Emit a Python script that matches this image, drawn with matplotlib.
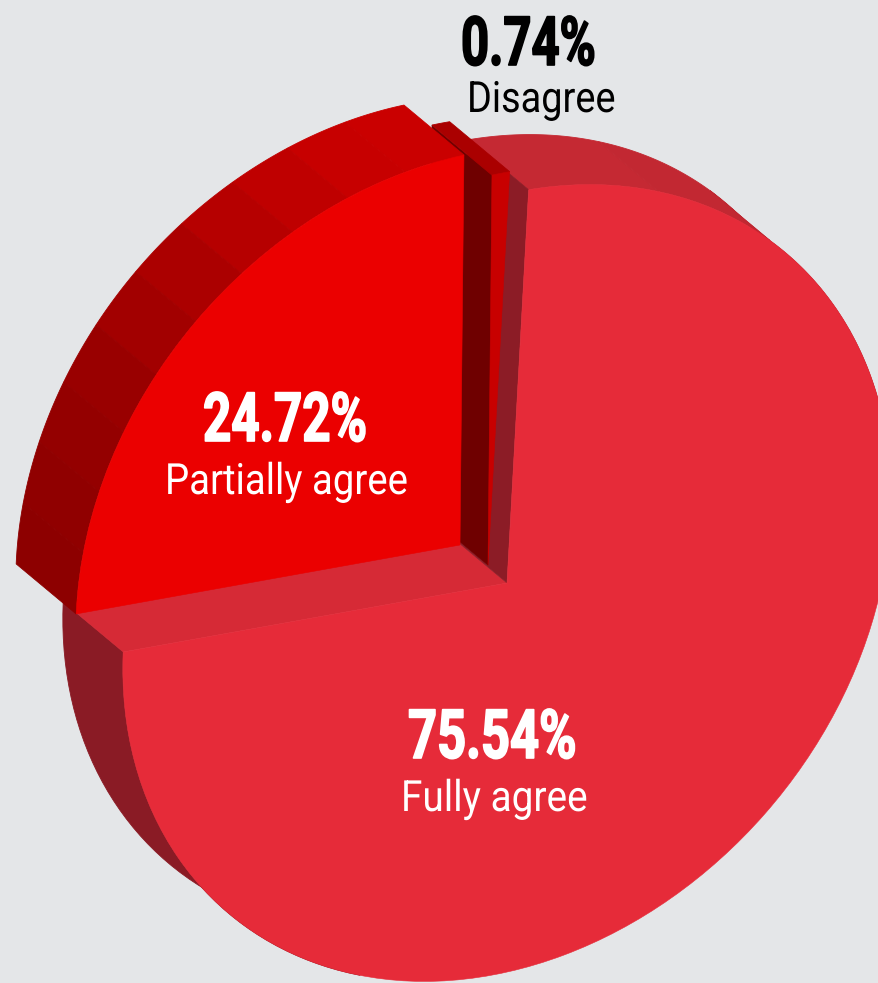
import numpy as np
import matplotlib
matplotlib.use("Agg")
import matplotlib.pyplot as plt
import matplotlib.colors as mcolors
from matplotlib.patches import Wedge, Polygon
from matplotlib.patheffects import AbstractPathEffect
from matplotlib.transforms import Affine2D

labels = ["Fully agree", "Partially agree", "Disagree"]
values = [75.54, 24.72, 0.74]

WIDTH, HEIGHT = 879, 983
BG = "#e4e6e8"

# the pie is seen at an angle, so the circle turns into an ellipse
SEMI_MAJOR, SEMI_MINOR = 432, 346
MAJOR_DIR = 49.8
shape = Affine2D().rotate_deg(-MAJOR_DIR).scale(SEMI_MAJOR, SEMI_MINOR).rotate_deg(MAJOR_DIR)

DEPTH = np.array([-60, 50])
apex_full = np.array([507, 400])
apex_partial = np.array([460, 438])
apex_disagree = np.array([488, 418])


class Squeeze(AbstractPathEffect):
    # narrows the glyphs around the text origin, for a condensed look
    def __init__(self, sx, stroke=0):
        super().__init__()
        self.sx = sx
        self.stroke = stroke

    def draw_path(self, renderer, gc, tpath, affine, rgbFace):
        aff = Affine2D().scale(self.sx, 1) + affine
        gc0 = renderer.new_gc()
        gc0.copy_properties(gc)
        if self.stroke:
            gc0.set_foreground(rgbFace)
            gc0.set_linewidth(self.stroke)
        else:
            gc0.set_linewidth(0)
        renderer.draw_path(gc0, tpath, aff, rgbFace)
        gc0.restore()


def arc(apex, t1, t2, n=2):
    t = np.radians(np.linspace(t1, t2, n))
    return shape.transform(np.c_[np.cos(t), np.sin(t)]) + apex


def draw_face(ax, apex, t1, t2, color, z):
    w = Wedge((0, 0), 1, t1, t2, facecolor=color, edgecolor=color, lw=0.4, zorder=z)
    w.set_transform(shape + Affine2D().translate(*apex) + ax.transData)
    ax.add_patch(w)


def draw_edge_wall(ax, apex, t, color, z):
    tip = arc(apex, t, t, 1)[0]
    pts = [apex, tip, tip + DEPTH, apex + DEPTH]
    ax.add_patch(Polygon(pts, facecolor=color, edgecolor=color, lw=0.4, zorder=z))


def draw_rim(ax, apex, t1, t2, stops, z, n=16):
    # rim is split in bands so the shading steps along the arc
    rgb = np.array([mcolors.to_rgb(c) for c in stops])
    pos = np.linspace(0, 1, len(stops))
    edges = np.linspace(t1, t2, n + 1)
    for i in range(n):
        f = arc(apex, edges[i], edges[i + 1], 40)
        col = [np.interp((i + 0.5) / n, pos, rgb[:, k]) for k in range(3)]
        pts = np.vstack([f, (f + DEPTH)[::-1]])
        ax.add_patch(Polygon(pts, facecolor=col, edgecolor=col, lw=0.6, zorder=z))


fig = plt.figure(figsize=(WIDTH / 100, HEIGHT / 100), dpi=100, facecolor=BG)
ax = fig.add_axes([0, 0, 1, 1])
ax.set_xlim(0, WIDTH)
ax.set_ylim(0, HEIGHT)
ax.axis("off")

sweep = np.array(values) / sum(values) * 360
mid = MAJOR_DIR + 90
p1, p2 = mid - sweep[1] / 2, mid + sweep[1] / 2
d1, d2 = p1 - sweep[2], p1
f1, f2 = p2, d1 + 360

# largest slice: rim first, then side walls, then the top face
draw_rim(ax, apex_full, f2 - 360, f2 - 360 - 100, ["#c62a34", "#b8232d"], 1, n=5)
draw_rim(ax, apex_full, f1, f1 + 70, ["#8a1b25", "#8a1b25"], 1, n=1)
draw_edge_wall(ax, apex_full, f1, "#d62a36", 2)
draw_edge_wall(ax, apex_full, f2, "#8c1c26", 2)
draw_face(ax, apex_full, f1, f2, "#e62b39", 3)

# thin slice
draw_edge_wall(ax, apex_disagree, d2, "#6f0000", 4)
draw_rim(ax, apex_disagree, d1, d2, ["#aa0000", "#aa0000"], 4, n=1)
draw_face(ax, apex_disagree, d1, d2, "#c80000", 5)

# pulled out slice
draw_rim(ax, apex_partial, p1, p2,
         ["#cc0000", "#c60000", "#b80000", "#a60000", "#980000", "#900000", "#8c0000"], 6, n=10)
draw_face(ax, apex_partial, p1, p2, "#eb0000", 7)

# left edge and baseline of each text line
num_pos = [(408, 225), (203, 542), (461, 918)]
lab_pos = [(401, 172), (165, 489), (467, 871)]
text_colors = ["white", "white", "black"]
num_sx = [0.745, 0.725, 0.72]
lab_sx = [0.90, 0.89, 0.88]

for i, v in enumerate(values):
    ax.text(num_pos[i][0], num_pos[i][1], "%.2f%%" % v, color=text_colors[i],
            family="Roboto", weight="bold", fontsize=49, ha="left", va="baseline", zorder=10,
            path_effects=[Squeeze(num_sx[i], stroke=1.2)])
    ax.text(lab_pos[i][0], lab_pos[i][1], labels[i], color=text_colors[i],
            family="Roboto", fontsize=31, ha="left", va="baseline", zorder=10,
            path_effects=[Squeeze(lab_sx[i])])

fig.savefig("out.png", dpi=100, facecolor=BG)
